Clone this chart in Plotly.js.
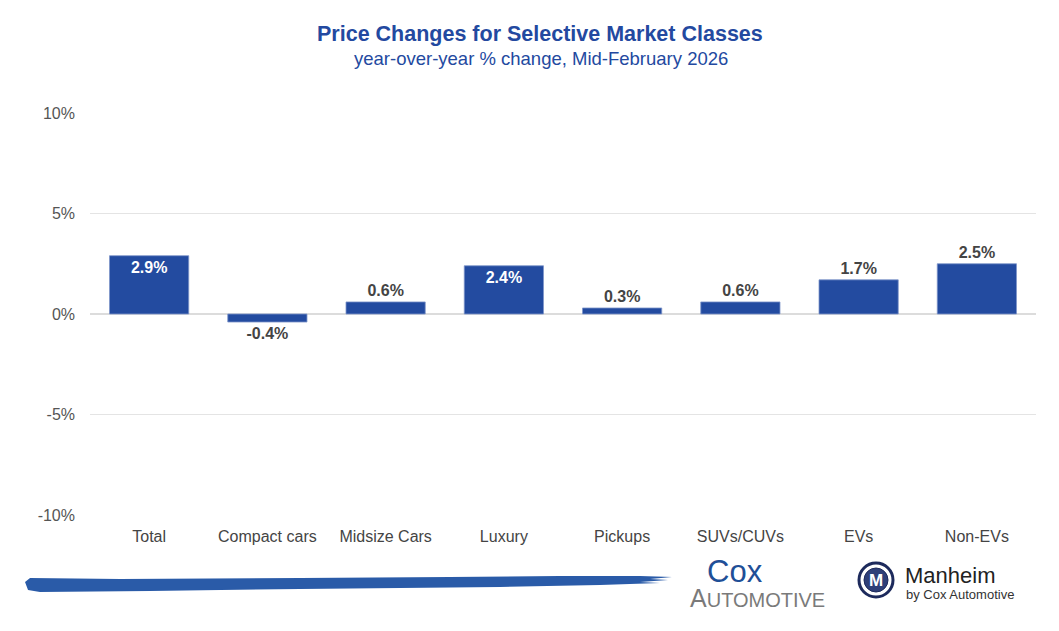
<!DOCTYPE html>
<html><head><meta charset="utf-8">
<script src="https://cdn.plot.ly/plotly-3.0.1.min.js"></script>
<style>html,body{margin:0;padding:0;background:#fff}</style>
</head><body><div id="chart" style="width:1059px;height:631px"></div>
<script>
const categories = ["Total","Compact cars","Midsize Cars","Luxury","Pickups","SUVs/CUVs","EVs","Non-EVs"];
const values = [2.9,-0.4,0.6,2.4,0.3,0.6,1.7,2.5];
const labelInside = [true,false,false,true,false,false,false,false];
const tickVals = [-10,-5,0,5,10];
const tickText = ["-10%","-5%","0%","5%","10%"];
const titleText = "Price Changes for Selective Market Classes";
const subtitleText = "year-over-year % change, Mid-February 2026";

const L=90, R=1036, T=113, B=515;
const px = x => (x-L)/(R-L);
const py = y => (B-y)/(B-T);
function path(pts){ return pts.map((p,i)=>(i?'L':'M')+px(p[0]).toFixed(4)+','+py(p[1]).toFixed(4)).join(' ')+' Z'; }
const FONT = 'Liberation Sans, Arial, sans-serif';

const trace = {
  type:'bar', x:categories, y:values,
  marker:{color:'#234BA0', line:{color:'#7f95c9', width:0.8}},
  text: values.map(v=>v.toFixed(1)+'%'),
  textposition: labelInside.map(b=>b?'inside':'outside'),
  insidetextanchor:'end',
  textfont:{family:FONT, size:16, weight:'bold', color: labelInside.map(b=>b?'#ffffff':'#444444')},
  cliponaxis:false,
  hoverinfo:'none',
  width:0.67
};

const brush = path([[25,582],[30,578],[120,579],[300,578],[450,577],[560,576],[640,576],[672,577],[650,579],[668,580],[640,582],[660,583],[600,585],[500,587],[400,588],[300,589],[150,591],[40,592],[28,590]]);

const layout = {
  width:1059, height:631,
  margin:{l:L, r:1059-R, t:T, b:631-B},
  paper_bgcolor:'#fff', plot_bgcolor:'#fff',
  showlegend:false,
  xaxis:{type:'category', showgrid:false, showline:false, ticks:'', tickfont:{family:FONT, size:16, color:'#444'}, ticklabelstandoff:10},
  yaxis:{range:[-10,10], tickvals:tickVals, ticktext:tickText, showgrid:true, gridcolor:'#e4e4e4', gridwidth:1, zeroline:true, zerolinecolor:'#dcdcdc', zerolinewidth:1.2, showline:false, ticks:'', ticklabelstandoff:14, tickfont:{family:FONT, size:16, color:'#555'}, fixedrange:true},
  shapes:[
    {type:'path', xref:'paper', yref:'paper', path:brush, fillcolor:'#2A5BA8', line:{width:0}},
    {type:'circle', xref:'paper', yref:'paper', x0:px(859), x1:px(893), y0:py(597), y1:py(563), line:{color:'#1d2a5c', width:3}, fillcolor:'#ffffff'},
    {type:'circle', xref:'paper', yref:'paper', x0:px(864), x1:px(888), y0:py(592), y1:py(568), line:{color:'#1d2a5c', width:1}, fillcolor:'#2f3f78'}
  ],
  annotations:[
    {xref:'paper', yref:'paper', x:px(540), y:py(34), text:'<b>'+titleText+'</b>', showarrow:false, font:{family:FONT, size:21.5, color:'#2349A0'}, xanchor:'center', yanchor:'middle'},
    {xref:'paper', yref:'paper', x:px(541), y:py(58), text:subtitleText, showarrow:false, font:{family:FONT, size:18.5, color:'#2349A0'}, xanchor:'center', yanchor:'middle'},
    {xref:'paper', yref:'paper', x:px(735), y:py(571), text:'Cox', showarrow:false, font:{family:'Liberation Sans Narrow, Liberation Sans, sans-serif', size:31, color:'#1F4F97'}, xanchor:'center', yanchor:'middle'},
    {xref:'paper', yref:'paper', x:px(757), y:py(598), text:'<span style="font-size:25px">A</span>UTOMOTIVE', showarrow:false, font:{family:'Liberation Sans Narrow, Liberation Sans, sans-serif', size:20, color:'#7a7a7a'}, xanchor:'center', yanchor:'middle'},
    {xref:'paper', yref:'paper', x:px(876), y:py(580), text:'<b>M</b>', showarrow:false, font:{family:FONT, size:17, color:'#ffffff'}, xanchor:'center', yanchor:'middle'},
    {xref:'paper', yref:'paper', x:px(903), y:py(575), text:'Manheim', showarrow:false, font:{family:FONT, size:22, color:'#222'}, xanchor:'left', yanchor:'middle'},
    {xref:'paper', yref:'paper', x:px(904), y:py(594), text:'by Cox Automotive', showarrow:false, font:{family:FONT, size:13, color:'#333'}, xanchor:'left', yanchor:'middle'}
  ]
};
Plotly.newPlot('chart',[trace],layout,{displayModeBar:false, staticPlot:true});
</script></body></html>
